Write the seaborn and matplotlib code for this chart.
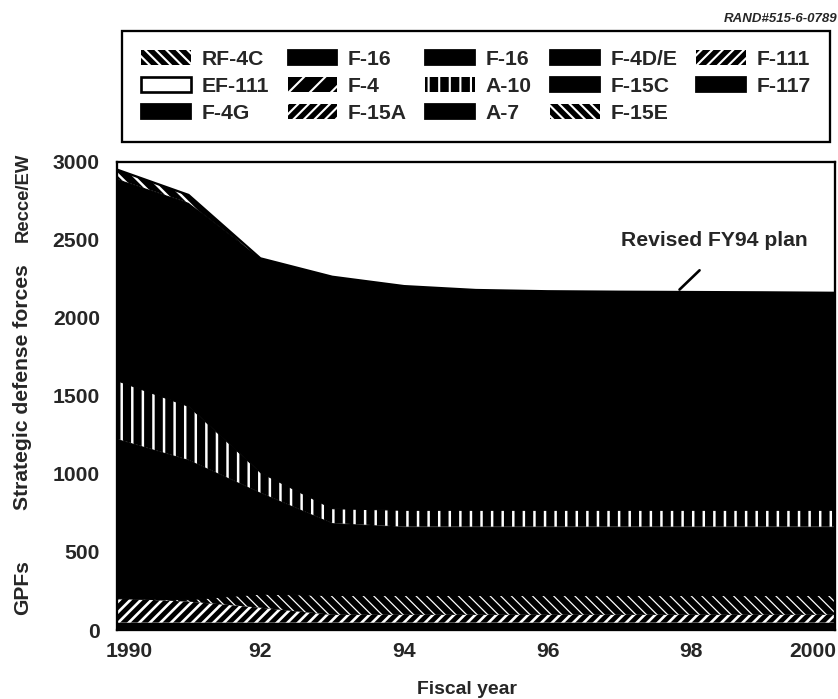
import numpy as np
import pandas as pd
import matplotlib
matplotlib.use("Agg")
import matplotlib.pyplot as plt
import seaborn as sns
from matplotlib.patches import Patch
from matplotlib.transforms import ScaledTranslation

# ---------------- data (aircraft inventory, stacked bottom -> top) ----------------
years = [1990, 1991, 1992, 1993, 1994, 1995, 1996, 1997, 1998, 1999, 2000]
f117 = [47, 47, 47, 47, 47, 47, 47, 47, 47, 47, 47]
f111 = [156, 135, 96, 50, 50, 50, 50, 50, 50, 50, 50]
f15e = [0, 15, 90, 127, 127, 127, 127, 127, 127, 127, 127]
f16 = [1022, 893, 647, 461, 438, 438, 438, 438, 438, 438, 438]
a10 = [375, 345, 130, 95, 108, 108, 108, 108, 108, 108, 108]
f15c = [1290, 1302, 1371, 1483, 1433, 1408, 1400, 1397, 1395, 1393, 1390]
rf4c = [60, 50, 0, 0, 0, 0, 0, 0, 0, 0, 0]

layers = [f117, f111, f15e, f16, a10, f15c, rf4c]
layer_hatch = [None, "////", "\\\\\\\\", None, "||", None, "\\\\\\"]
layer_hlw = [1.0, 1.5, 0.7, 1.0, 1.4, 1.0, 1.4]

legend_names = ["RF-4C", "EF-111", "F-4G", "F-16", "F-4", "F-15A", "F-16", "A-10",
                "A-7", "F-4D/E", "F-15C", "F-15E", "F-111", "F-117"]
legend_hatch = ["\\\\\\\\", None, None, None, "//", "////", None, "||",
                None, None, None, "\\\\\\\\", "////", None]
legend_face = ["black", "white", "black", "black", "black", "black", "black", "black",
               "black", "black", "black", "black", "black", "black"]
legend_hlw = [1.6, 1, 1, 1, 2.4, 0.8, 1, 1.4, 1, 1, 1, 0.7, 1.6, 1]

yticks = [0, 500, 1000, 1500, 2000, 2500, 3000]
xticks = [1990, 1992, 1994, 1996, 1998, 2000]
xticklabels = ["1990", "92", "94", "96", "98", "2000"]

# ---------------- style ----------------
sns.set_theme(style="white")
plt.rcParams["font.family"] = ["Liberation Sans", "DejaVu Sans"]
plt.rcParams["font.weight"] = "bold"
plt.rcParams["hatch.color"] = "white"
plt.rcParams["hatch.linewidth"] = 1.2

DPI = 127
fig = plt.figure(figsize=(838 / DPI, 699 / DPI), dpi=DPI)
ax = fig.add_axes([116.7 / 838, 69 / 699, (835 - 116.7) / 838, (630 - 161.7) / 699])

colls = ax.stackplot(years, *layers, colors=["black"] * len(layers),
                     hatch=layer_hatch, edgecolor="white", linewidth=0)
for c, h, lw in zip(colls, layer_hatch, layer_hlw):
    if h is None:
        c.set_edgecolor("black")
        c.set_linewidth(0.6)
    elif hasattr(c, "set_hatch_linewidth"):
        c.set_hatch_linewidth(lw)

df = pd.DataFrame({"year": years, "total": np.sum(np.array(layers), axis=0)})
sns.lineplot(data=df, x="year", y="total", color="black", lw=1.3, ax=ax, legend=False)

ax.set_xlim(1990, 2000)
ax.set_ylim(0, 3000)
ax.set_xticks(xticks)
ax.set_xticklabels(xticklabels)
ax.set_yticks(yticks)
ax.tick_params(axis="both", length=0, labelsize=12)
ax.tick_params(axis="y", pad=9.6)
ax.tick_params(axis="x", pad=7)
for lab in ax.get_xticklabels() + ax.get_yticklabels():
    lab.set_fontweight("bold")
xl = ax.get_xticklabels()
xl[0].set_transform(xl[0].get_transform() + ScaledTranslation(12 / DPI, 0, fig.dpi_scale_trans))
xl[-1].set_transform(xl[-1].get_transform() + ScaledTranslation(-22 / DPI, 0, fig.dpi_scale_trans))
ax.set_xlabel("Fiscal year", fontsize=11, fontweight="bold")
ax.xaxis.set_label_coords((467 - 116.7) / (835 - 116.7), -(690 - 630) / (630 - 161.7))
ax.xaxis.label.set_va("center")
ax.set_ylabel("")
for s in ax.spines.values():
    s.set_color("black")
    s.set_linewidth(1.3)

# annotation
ax.annotate("", xy=(1997.8, 2165), xytext=(1998.15, 2320),
            arrowprops=dict(arrowstyle="-", lw=1.5, color="black"))
ax.text(1998.32, 2492, "Revised FY94 plan", ha="center", va="center",
        fontsize=12, fontweight="bold")

# y group labels
fig.text(23 / 838, 1 - 197 / 699, "Recce/EW", rotation=90, ha="center", va="center",
         fontsize=10.5, fontweight="bold")
fig.text(23 / 838, 1 - 387 / 699, "Strategic defense forces", rotation=90, ha="center",
         va="center", fontsize=12, fontweight="bold")
fig.text(23 / 838, 1 - 588 / 699, "GPFs", rotation=90, ha="center", va="center",
         fontsize=12, fontweight="bold")

fig.text(837 / 838, 1 - 19 / 699, "RAND#515-6-0789", ha="right", va="center",
         fontsize=7.5, fontweight="bold", style="italic")

# legend
handles = []
for name, h, fc, hlw in zip(legend_names, legend_hatch, legend_face, legend_hlw):
    if fc == "white":
        p = Patch(facecolor="white", edgecolor="black", linewidth=1.5, label=name)
    else:
        p = Patch(facecolor="black", edgecolor="white" if h else "black",
                  hatch=h, linewidth=0 if h else 1, label=name)
        if h and hasattr(p, "set_hatch_linewidth"):
            p.set_hatch_linewidth(hlw)
    handles.append(p)

leg = fig.legend(handles=handles, ncol=5, loc="upper left",
                 bbox_to_anchor=(122 / 838, 1 - 138 / 699, (830 - 122) / 838, 107 / 699),
                 bbox_transform=fig.transFigure, mode="expand", borderaxespad=0,
                 prop={"size": 12, "weight": "bold"}, frameon=True, fancybox=False,
                 handlelength=2.35, handleheight=0.7, handletextpad=0.5,
                 labelspacing=0.38, borderpad=0.9, columnspacing=0.6)
fr = leg.get_frame()
fr.set_edgecolor("black")
fr.set_linewidth(1.3)
fr.set_alpha(1)

fig.savefig("out.png", dpi=DPI)
